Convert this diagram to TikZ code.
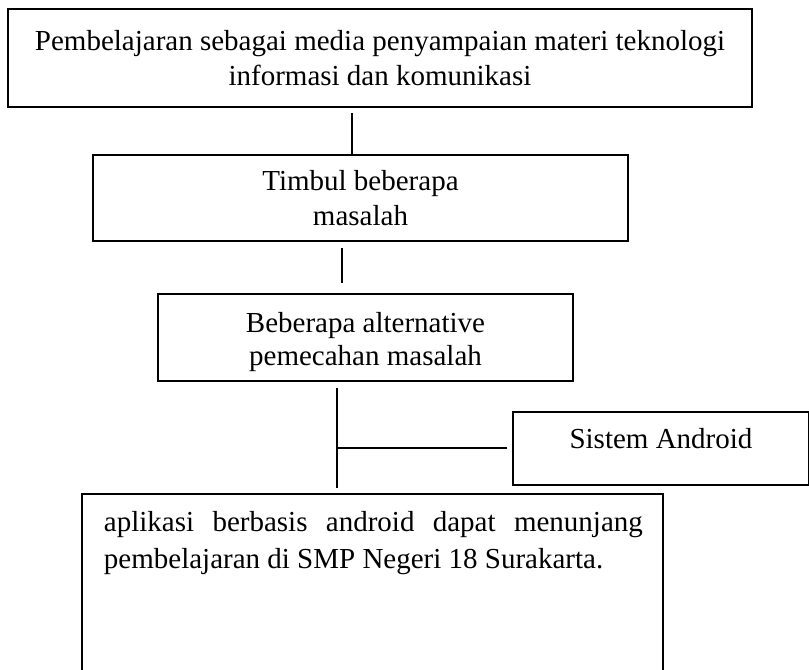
\documentclass[tikz,border=0pt]{standalone}
\usepackage{fontspec}
\setmainfont{Liberation Serif}

\begin{document}
\begin{tikzpicture}[x=0.4138pt, y=-0.4138pt, line width=0.8pt,
    box/.style={draw, inner sep=0pt, align=center, font=\fontsize{12pt}{14.4pt}\selectfont}]
    % Fix the picture size
    \useasboundingbox (0,0) rectangle (809,670);
    \clip (0,0) rectangle (809,670);

    % Define the columns of the connectors
    \coordinate (L1) at (352,0);
    \coordinate (L2) at (342,0);
    \coordinate (L3) at (337,0);

    % Draw the boxes
    \node[box, minimum width=307.9pt, minimum height=40.6pt] (pembelajaran) at (380,58)
        {Pembelajaran sebagai media penyampaian materi teknologi\\informasi dan komunikasi};
    \node[box, minimum width=221.4pt, minimum height=35.6pt] (timbul) at (360.5,198)
        {Timbul beberapa\\masalah};
    \node[box, minimum width=171.7pt, minimum height=36pt, text height=25.6pt,
        font=\fontsize{12pt}{13.7pt}\selectfont] (alternatif) at (365.5,337.5)
        {Beberapa alternative\\pemecahan masalah};
    \node[box, minimum width=122.5pt, minimum height=30.2pt, text depth=8.7pt,
        anchor=north west] (android) at (512,411) {Sistem Android};
    \node[draw, inner sep=0pt, minimum width=240.4pt, minimum height=85.7pt,
        anchor=north] (aplikasi) at (372.5,493) {};
    \node[anchor=north west, inner sep=0pt, text width=223pt, align=justify,
        font=\fontsize{12pt}{15.3pt}\selectfont] (aplikasitext) at (103,510)
        {aplikasi berbasis android dapat menunjang\linebreak pembelajaran di SMP Negeri 18 Surakarta.};

    % Draw the connectors
    \draw[shorten <=2pt] (pembelajaran.south -| L1) -- (timbul.north -| L1);
    \draw[shorten <=2.5pt, shorten >=4pt] (timbul.south -| L2) -- (alternatif.north -| L2);
    \draw[shorten <=2.5pt, shorten >=2pt] (alternatif.south -| L3) -- (aplikasi.north -| L3);
    \draw[shorten <=2pt] (android.west) -- (android.west -| L3);
\end{tikzpicture}
\end{document}
